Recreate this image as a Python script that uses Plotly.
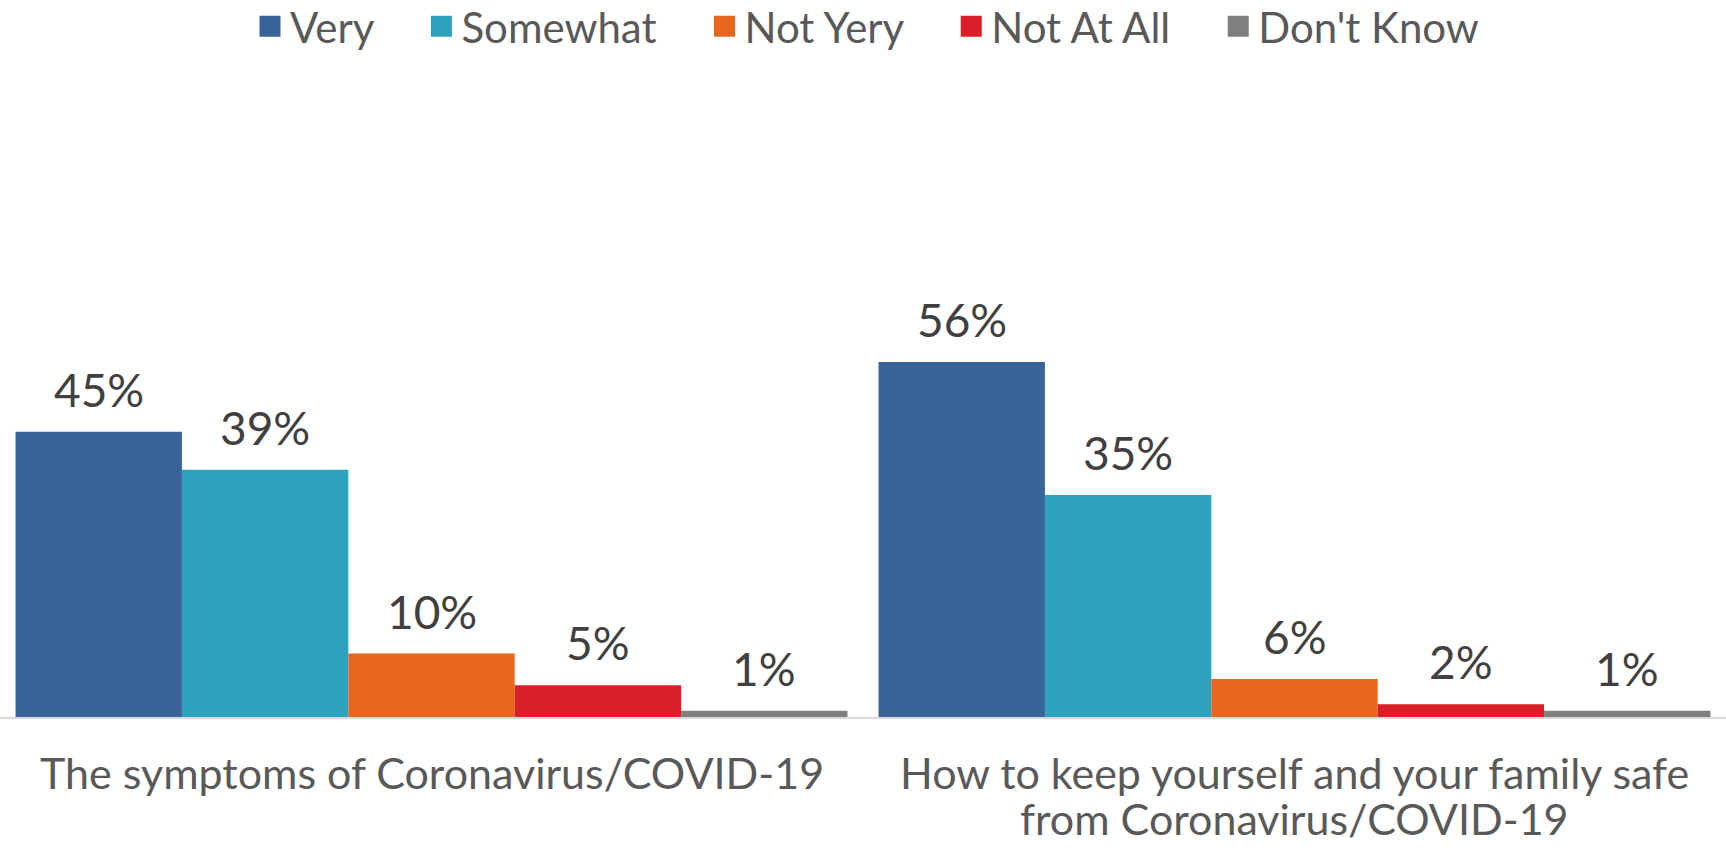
import plotly.graph_objects as go

categories = ["The symptoms of Coronavirus/COVID-19",
              "How to keep yourself and your family safe<br>from Coronavirus/COVID-19"]
series_names = ["Very", "Somewhat", "Not Yery", "Not At All", "Don't Know"]
very = [45, 56]
somewhat = [39, 35]
not_very = [10, 6]
not_at_all = [5, 2]
dont_know = [1, 1]
series_values = [very, somewhat, not_very, not_at_all, dont_know]
colors = ["#3A6399", "#2CA2BF", "#E9641E", "#DA1F28", "#7F7F7F"]

FONT = "Lato"
bargap = 0.036
xs = list(range(len(categories)))

fig = go.Figure()
for name, vals, col in zip(series_names, series_values, colors):
    fig.add_bar(x=xs, y=vals, name=name, marker_color=col, marker_line_width=0,
                showlegend=False, hoverinfo="skip")
for name, col in zip(series_names, colors):
    fig.add_scatter(x=[None], y=[None], mode="markers", name=name + "\u00a0" * 4,
                    marker=dict(symbol="square", size=16, color=col,
                                line=dict(color=col, width=5)))

n = len(series_names)
w = (1 - bargap) / n
annotations = []
for i, vals in enumerate(series_values):
    for j, v in enumerate(vals):
        annotations.append(dict(
            x=j - (1 - bargap) / 2 + w * (i + 0.5), y=v, xref="x", yref="y",
            text=f"{v}%", showarrow=False, yanchor="bottom", yshift=13,
            font=dict(family=FONT, size=46, color="#404040")))

# category labels, one annotation per line
for j, cat in enumerate(categories):
    for k, line in enumerate(cat.split("<br>")):
        annotations.append(dict(
            x=j, y=0, xref="x", yref="paper", text=line, showarrow=False,
            yanchor="middle", yshift=-55 - 46 * k,
            font=dict(family=FONT, size=43, color="#595959")))

fig.update_layout(
    width=1726, height=852,
    margin=dict(l=0, r=0, t=83, b=135, autoexpand=False),
    barmode="group", bargap=bargap, bargroupgap=0,
    plot_bgcolor="white", paper_bgcolor="white",
    font=dict(family=FONT, color="#595959"),
    annotations=annotations,
    legend=dict(orientation="h", x=0.5145, xanchor="center",
                y=1.089, yanchor="middle",
                font=dict(family=FONT, size=42, color="#595959"),
                itemsizing="trace", tracegroupgap=0),
    showlegend=True,
)
fig.update_xaxes(range=[-0.5, 1.5], tickvals=xs, showticklabels=False,
                 showline=True, linecolor="#D9D9D9", linewidth=2,
                 showgrid=False, zeroline=False, ticks="", automargin=False)
fig.update_yaxes(range=[0, 100], visible=False, showgrid=False, zeroline=False,
                 automargin=False)

fig.write_html("out.html", config={"displayModeBar": False},
               post_script="document.body.style.margin='0px';")
